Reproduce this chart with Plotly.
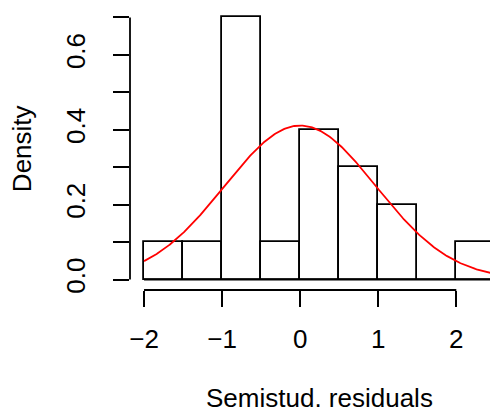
import numpy as np
import plotly.graph_objects as go

# Histogram of semi-studentized residuals (density scale)
breaks = [-2.0, -1.5, -1.0, -0.5, 0.0, 0.5, 1.0, 1.5, 2.0, 2.5]
density = [0.1, 0.1, 0.7, 0.1, 0.4, 0.3, 0.2, 0.0, 0.1]

# Fitted normal curve parameters
fit_mean = 0.0
fit_sd = 0.97

x_ticks = [-2, -1, 0, 1, 2]
x_ticktext = ["\u22122", "\u22121", "0", "1", "2"]
y_ticks = [0.0, 0.1, 0.2, 0.3, 0.4, 0.5, 0.6, 0.7]
y_ticktext = ["0.0", "", "0.2", "", "0.4", "", "0.6", ""]

FONT = "Liberation Sans, Arial, sans-serif"
FS = 26
LW = 1.8

centers = [(a + b) / 2 for a, b in zip(breaks[:-1], breaks[1:])]
widths = [b - a for a, b in zip(breaks[:-1], breaks[1:])]

# plotting region padded by 4% beyond the data range
xpad = 0.04 * (breaks[-1] - breaks[0])
ypad = 0.04 * max(density)
x_lo, x_hi = breaks[0] - xpad, breaks[-1] + xpad
y_lo, y_hi = -ypad, max(density) + ypad

fig = go.Figure()

fig.add_trace(go.Bar(
    x=centers, y=density, width=widths,
    marker=dict(color="white", line=dict(color="black", width=LW)),
    showlegend=False, hoverinfo="skip",
))

# bottom edge of all bins (including empty ones)
fig.add_trace(go.Scatter(
    x=[breaks[0], breaks[-1]], y=[0, 0], mode="lines",
    line=dict(color="black", width=LW), showlegend=False, hoverinfo="skip",
))

xs = np.linspace(breaks[0], breaks[-1], 300)
ys = np.exp(-0.5 * ((xs - fit_mean) / fit_sd) ** 2) / (fit_sd * np.sqrt(2 * np.pi))
fig.add_trace(go.Scatter(
    x=xs, y=ys, mode="lines", line=dict(color="red", width=LW),
    showlegend=False, hoverinfo="skip",
))

# axis lines spanning only the tick range
fig.add_shape(type="line", xref="paper", yref="y", x0=0, x1=0,
              y0=y_ticks[0], y1=y_ticks[-1], line=dict(color="black", width=LW))
fig.add_shape(type="line", xref="x", yref="paper", x0=x_ticks[0], x1=x_ticks[-1],
              y0=0, y1=0, line=dict(color="black", width=LW))

# axis titles
fig.add_annotation(text="Semistud. residuals", xref="x", yref="paper",
                   x=(x_lo + x_hi) / 2, y=-0.382, xanchor="center", yanchor="middle",
                   showarrow=False, font=dict(family=FONT, size=FS, color="black"))
fig.add_annotation(text="Density", xref="paper", yref="y",
                   x=-0.301, y=(y_lo + y_hi) / 2, xanchor="center", yanchor="middle",
                   textangle=-90, showarrow=False,
                   font=dict(family=FONT, size=FS, color="black"))

L = 130.3
W = 490
plot_w = W - L
x_right = x_lo + plot_w / 78.0

fig.update_layout(
    width=490, height=412,
    margin=dict(l=L, r=0, t=7.2, b=121.5, pad=0),
    paper_bgcolor="white", plot_bgcolor="white",
    bargap=0,
    xaxis=dict(range=[x_lo, x_right], tickvals=x_ticks, ticktext=x_ticktext,
               ticks="outside", ticklen=16, tickwidth=LW, tickcolor="black",
               showgrid=False, zeroline=False, showline=False,
               tickfont=dict(family=FONT, size=FS, color="black"),
               ticklabelstandoff=10),
    yaxis=dict(range=[y_lo, y_hi], tickvals=y_ticks, ticktext=y_ticktext,
               ticks="outside", ticklen=16, tickwidth=LW, tickcolor="black",
               showgrid=False, zeroline=False, showline=False, tickangle=-90,
               tickfont=dict(family=FONT, size=FS, color="black"),
               ticklabelstandoff=18),
)

fig.write_html("out.html")
